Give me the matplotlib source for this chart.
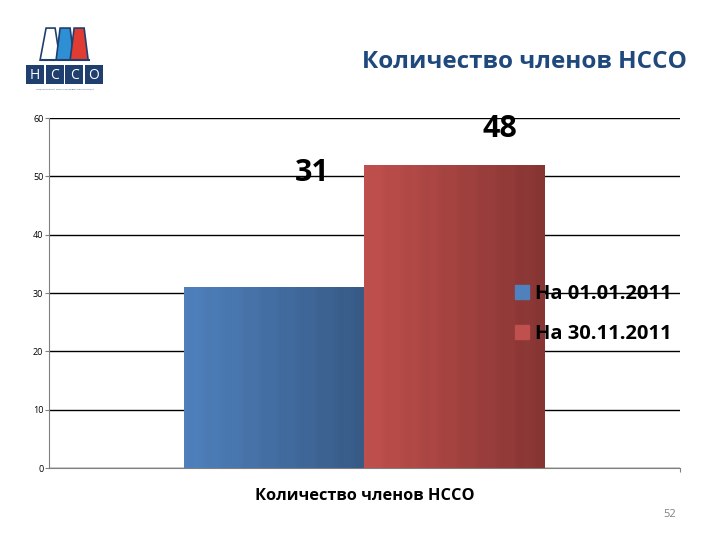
import matplotlib.pyplot as plt
import matplotlib.patches as mpatches
import matplotlib as mpl
import numpy as np

mpl.rcParams['font.family'] = ['Open Sans', 'DejaVu Sans']

# data
series = ['На 01.01.2011', 'На 30.11.2011']
bar_values = [31, 52]
bar_labels = ['31', '48']
yticks = [0, 10, 20, 30, 40, 50, 60]
title = 'Количество членов НССО'
xlabel = 'Количество членов НССО'
page_no = '52'

col_left = ['#4F81BD', '#C0504D']
col_right = ['#375A86', '#863533']

fig = plt.figure(figsize=[7.2, 5.4], dpi=100)
ax = fig.add_axes([0.068, 0.1333, 0.876, 0.648])

xpos = [-0.5, 0.5]
bars = ax.bar(xpos, bar_values, width=1.0, color=col_left, zorder=2)
# horizontal gradient with faint stripes, clipped to each bar
for b, cl, cr in zip(bars, col_left, col_right):
    c1 = np.array(mpl.colors.to_rgb(cl))
    c2 = np.array(mpl.colors.to_rgb(cr))
    t = np.linspace(0, 1, 200)
    shade = np.clip(t * 1.0 + 0.03 * np.sin(t * 60), 0, 1)
    img = c1[None, :] * (1 - shade[:, None]) + c2[None, :] * shade[:, None]
    img = img[None, :, :]
    x0 = b.get_x()
    im = ax.imshow(img, extent=[x0, x0 + b.get_width(), 0, b.get_height()],
                   aspect='auto', zorder=3, interpolation='bilinear')
    im.set_clip_path(b)

ax.set_xlim(-1.75, 1.75)
ax.set_ylim(0, 60)
ax.set_yticks(yticks)
ax.set_yticklabels([str(v) for v in yticks], fontsize=6.5)
ax.set_xticks([1.75])
ax.set_xticklabels([''])
ax.yaxis.grid(True, color='black', linewidth=1.0, zorder=1)
ax.set_axisbelow(True)
for s in ['top', 'right']:
    ax.spines[s].set_visible(False)
for s in ['left', 'bottom']:
    ax.spines[s].set_color('#808080')
ax.tick_params(axis='both', color='#808080', length=3, pad=1)

# value labels
ax.text(xpos[0] + 0.21, 50.6, bar_labels[0], fontsize=22,
        fontweight='bold', ha='center', va='center', zorder=5)
ax.text(xpos[1] + 0.25, 58.1, bar_labels[1], fontsize=22,
        fontweight='bold', ha='center', va='center', zorder=5)

handles = [mpatches.Patch(color=c) for c in col_left]
fig.legend(handles, series, loc='upper left', bbox_to_anchor=(0.69, 0.508),
           frameon=False, handlelength=0.7, handleheight=0.7,
           handletextpad=0.3, labelspacing=1.0,
           prop={'weight': 'bold', 'size': 14.5})

fig.text(0.507, 0.081, xlabel, fontsize=11.8, fontweight='bold', ha='center', va='center')
fig.text(0.93, 0.048, page_no, fontsize=8, color='#808080', ha='center', va='center')
fig.text(0.729, 0.885, title, fontsize=17.5, fontweight='bold', color='#1F497D',
         ha='center', va='center')

# logo
lg = fig.add_axes([0.0, 0.82, 0.16, 0.18])
lg.set_xlim(0, 115)
lg.set_ylim(97, 0)
lg.axis('off')
trap = [((46, 28), (55, 28), (60, 60), (40, 60), '#FFFFFF'),
        ((60, 28), (70, 28), (74, 60), (56, 60), '#2F8FD5'),
        ((74, 28), (84, 28), (88, 60), (70, 60), '#E03C31')]
for a, b2, c, d, fc in trap:
    lg.add_patch(mpatches.Polygon([a, b2, c, d], closed=True, facecolor=fc,
                                  edgecolor='#1F3F6F', linewidth=1.2))
lg.plot([41, 89], [60, 60], color='#1F3F6F', lw=1.5)
for i, ch in enumerate('НССО'):
    x0 = 26 + i * 19.5
    lg.add_patch(mpatches.Rectangle((x0, 65), 18, 19, facecolor='#1F3F6F'))
    lg.text(x0 + 9, 75, ch, color='white', fontsize=10, ha='center', va='center')
lg.text(65, 89, 'НАЦИОНАЛЬНЫЙ СОЮЗ СТРАХОВЫХ ОРГАНИЗАЦИЙ', fontsize=1.6,
        color='#1F3F6F', ha='center', va='center')

plt.savefig('out.png', dpi=100)
